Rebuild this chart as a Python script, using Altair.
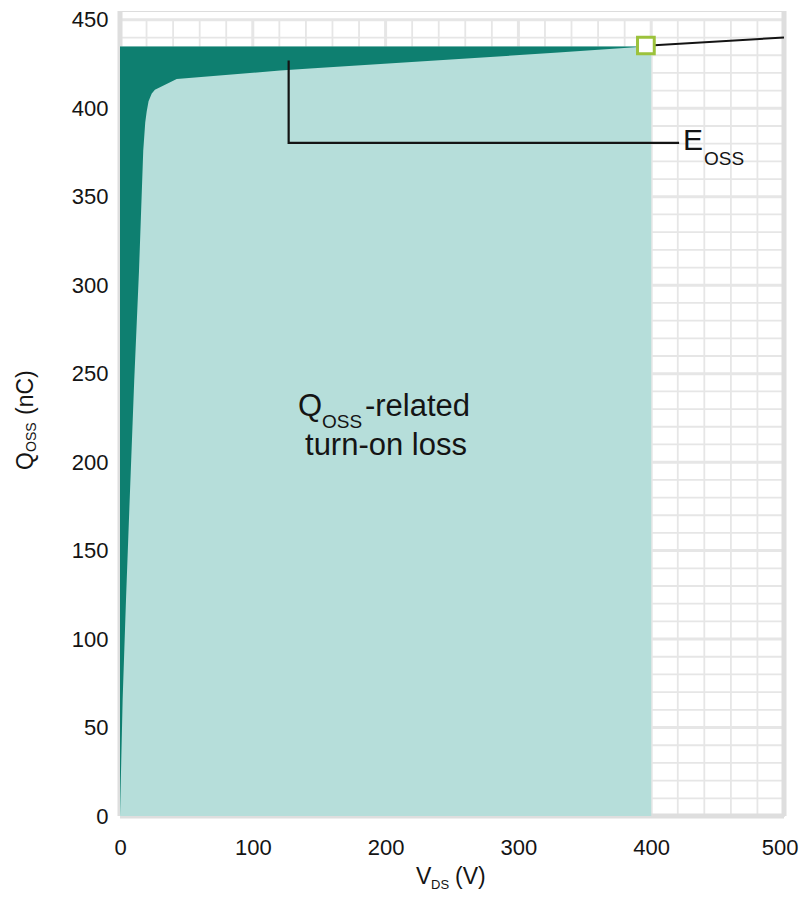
import altair as alt
import pandas as pd

# ---- data ----
# Q_OSS curve: V_DS (V) vs Q_OSS (nC)
curve_v = [0, 2, 4.5, 7.3, 10.7, 14.3, 17.5, 19, 20.1, 21.5, 23.9, 26.3, 42.7, 120.5, 143, 261, 330, 396]
curve_q = [0, 66, 122, 179, 246, 308, 376, 392, 398.2, 404, 408.4, 410.5, 416.6, 421.3, 422.5, 428.2, 431.5, 435]
# continuation of the curve beyond the operating point
ext_v = [396, 500]
ext_q = [435.3, 440]
# operating point
op_v = [396]
op_q = [435.5]
bus_voltage = 400
q_final = 435
# leader line for the E_OSS label
lead_v = [127, 127, 421]
lead_q = [427, 380.5, 380.5]

x_ticks = [0, 100, 200, 300, 400, 500]
y_ticks = [0, 50, 100, 150, 200, 250, 300, 350, 400, 450]
grid_v = list(range(20, 500, 20))
grid_q = list(range(10, 451, 10))

FONT = "Liberation Sans"
DARK = "#0e7f70"
LIGHT = "#b6deda"
GRID = "#e6e6e6"
FRAME = "#dedede"
INK = "#141414"

xs = alt.Scale(domain=[0, 500], nice=False, zero=False)
ys = alt.Scale(domain=[0, 455], nice=False, zero=False)
x_axis = alt.Axis(values=x_ticks, grid=False, ticks=False, domain=False, labelFontSize=22,
                  labelFont=FONT, labelColor=INK, labelPadding=21, labelFlush=False, title=None,
                  labelAlign=alt.condition("datum.value == 500", alt.value("right"), alt.value("center")),
                  labelOffset=alt.condition("datum.value == 500", alt.value(14), alt.value(0)))
y_axis = alt.Axis(values=y_ticks, grid=False, ticks=False, domain=False, labelFontSize=22,
                  labelFont=FONT, labelColor=INK, labelPadding=12, labelFlush=False, title=None)


def X(f="x"):
    return alt.X(f"{f}:Q", scale=xs, axis=x_axis)


def Y(f="y"):
    return alt.Y(f"{f}:Q", scale=ys, axis=y_axis)


# ---- grid ----
gv = pd.DataFrame({"x": grid_v})
gq = pd.DataFrame({"y": grid_q})
vgrid_minor = alt.Chart(gv).transform_filter("datum.x % 100 != 0").mark_rule(
    color=GRID, strokeWidth=1.8).encode(x=X(), y=alt.datum(0), y2=alt.datum(450))
vgrid_major = alt.Chart(gv).transform_filter("datum.x % 100 == 0").mark_rule(
    color=GRID, strokeWidth=3).encode(x=X(), y=alt.datum(0), y2=alt.datum(450))
hgrid_minor = alt.Chart(gq).transform_filter("datum.y % 50 != 0").mark_rule(
    color=GRID, strokeWidth=1.8).encode(y=Y(), x=alt.datum(0), x2=alt.datum(500))
hgrid_major = alt.Chart(gq).transform_filter("datum.y % 50 == 0").mark_rule(
    color=GRID, strokeWidth=3).encode(y=Y(), x=alt.datum(0), x2=alt.datum(500))

frame_v = alt.Chart(pd.DataFrame({"x": [0, 500]})).mark_rule(
    color=FRAME, strokeWidth=5).encode(x=X(), y=alt.datum(0), y2=alt.datum(455))
frame_h = alt.Chart(pd.DataFrame({"y": [0]})).mark_rule(
    color=FRAME, strokeWidth=5).encode(y=Y(), x=alt.datum(0), x2=alt.datum(500))

# ---- areas ----
rect_df = pd.DataFrame({"v0": [0], "v1": [bus_voltage], "q0": [0], "q1": [q_final]})
light = alt.Chart(rect_df).mark_rect(color=LIGHT).encode(
    x=X("v0"), x2="v1", y=Y("q0"), y2="q1")

curve_df = pd.DataFrame({"x": curve_v, "y": curve_q})
dark = alt.Chart(curve_df).mark_area(color=DARK, interpolate="linear").encode(
    x=X(), y=Y(), y2=alt.datum(q_final))

ext_df = pd.DataFrame({"x": ext_v, "y": ext_q})
ext = alt.Chart(ext_df).mark_line(color=INK, strokeWidth=2).encode(x=X(), y=Y())

lead_df = pd.DataFrame({"x": lead_v, "y": lead_q, "o": [0, 1, 2]})
lead = alt.Chart(lead_df).mark_line(color=INK, strokeWidth=2.2).encode(
    x=X(), y=Y(), order="o:O")

op_df = pd.DataFrame({"x": op_v, "y": op_q})
op = alt.Chart(op_df).mark_point(shape="square", size=280, filled=True, fill="white",
                                 stroke="#9cc23c", strokeWidth=3, opacity=1).encode(x=X(), y=Y())


# ---- texts ----
def txt(x, y, t, size, dx=0, dy=0, angle=0, align="left"):
    df = pd.DataFrame({"x": [x], "y": [y], "t": [t]})
    kw = dict(font=FONT, fontSize=size, color=INK, align=align, baseline="alphabetic", dx=dx, dy=dy)
    if angle:
        kw["angle"] = angle
    return alt.Chart(df).mark_text(**kw).encode(x=X(), y=Y(), text="t:N")


texts = [
    txt(134, 226.1, "Q", 31),
    txt(134, 226.1, "OSS", 19, dx=24, dy=12),
    txt(134, 226.1, "-related", 31, dx=67),
    txt(200.3, 204.1, "turn-on loss", 31, align="center"),
    txt(424, 376.5, "E", 30),
    txt(424, 376.5, "OSS", 19, dx=21, dy=15),
    # x axis title
    txt(222.9, -38.4, "V", 23),
    txt(222.9, -38.4, "DS", 13, dx=15, dy=5),
    txt(222.9, -38.4, "(V)", 23, dx=39),
    # y axis title (rotated; dx/dy act in the rotated frame)
    txt(-65.5, 195.6, "Q", 23, angle=270),
    txt(-65.5, 195.6, "OSS", 14, dx=18, dy=3, angle=270),
    txt(-65.5, 195.6, "(nC)", 23, dx=55, angle=270),
]

chart = alt.layer(
    vgrid_minor, hgrid_minor, vgrid_major, hgrid_major, frame_v, frame_h,
    light, dark, ext, lead, op, *texts
).properties(
    width=664, height=805,
    autosize=alt.AutoSizeParams(type="none"),
    padding={"left": 112, "top": 3, "right": 15, "bottom": 78},
).configure_view(stroke=None).configure(background="white")

chart.save("out.html", embed_options={"renderer": "svg", "actions": False})
